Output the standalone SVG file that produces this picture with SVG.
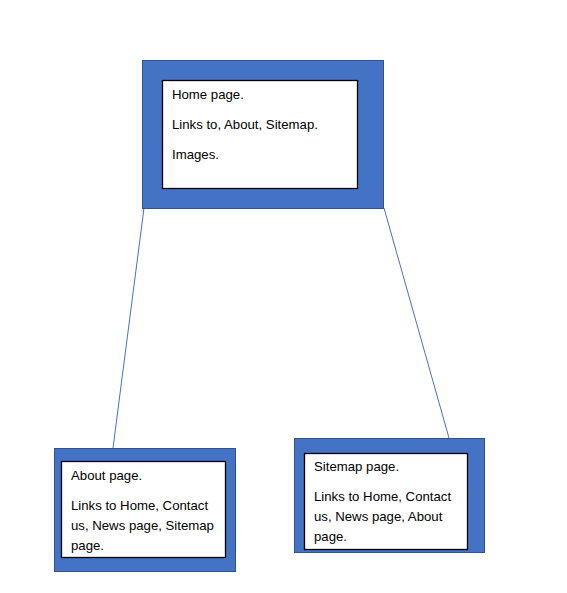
<svg xmlns="http://www.w3.org/2000/svg" width="567" height="593" viewBox="0 0 567 593">
<style>
.outer{fill:#4472C4;stroke:#2F528F;stroke-width:1}
.inner{fill:#fff;stroke:#000;stroke-width:1.3}
.t{font-family:"Liberation Sans",Arial,sans-serif;font-size:13.2px;fill:#000}
.c{stroke:#4472C4;stroke-width:1;fill:none}
</style>
<rect width="567" height="593" fill="#fff"/>
<g id="connectors">
<line class="c" x1="144" y1="208" x2="113" y2="448"/>
<line class="c" x1="384" y1="208" x2="449" y2="438"/>
</g>
<g id="home">
<rect class="outer" x="142.5" y="60.5" width="241" height="148"/>
<rect class="inner" x="162.5" y="80.5" width="195" height="108"/>
<text class="t" x="172" y="99">Home page.</text>
<text class="t" x="172" y="129">Links to, About, Sitemap.</text>
<text class="t" x="172" y="159">Images.</text>
</g>
<g id="about">
<rect class="outer" x="54.5" y="448.5" width="181" height="123"/>
<rect class="inner" x="61.5" y="461.5" width="164" height="96"/>
<text class="t" x="71" y="480">About page.</text>
<text class="t" x="71" y="510">Links to Home, Contact</text>
<text class="t" x="71" y="530">us, News page, Sitemap</text>
<text class="t" x="71" y="550">page.</text>
</g>
<g id="sitemap">
<rect class="outer" x="294.5" y="438.5" width="190" height="114"/>
<rect class="inner" x="304.5" y="453.5" width="163" height="96"/>
<text class="t" x="314" y="471">Sitemap page.</text>
<text class="t" x="314" y="501">Links to Home, Contact</text>
<text class="t" x="314" y="521">us, News page, About</text>
<text class="t" x="314" y="541">page.</text>
</g>
</svg>
